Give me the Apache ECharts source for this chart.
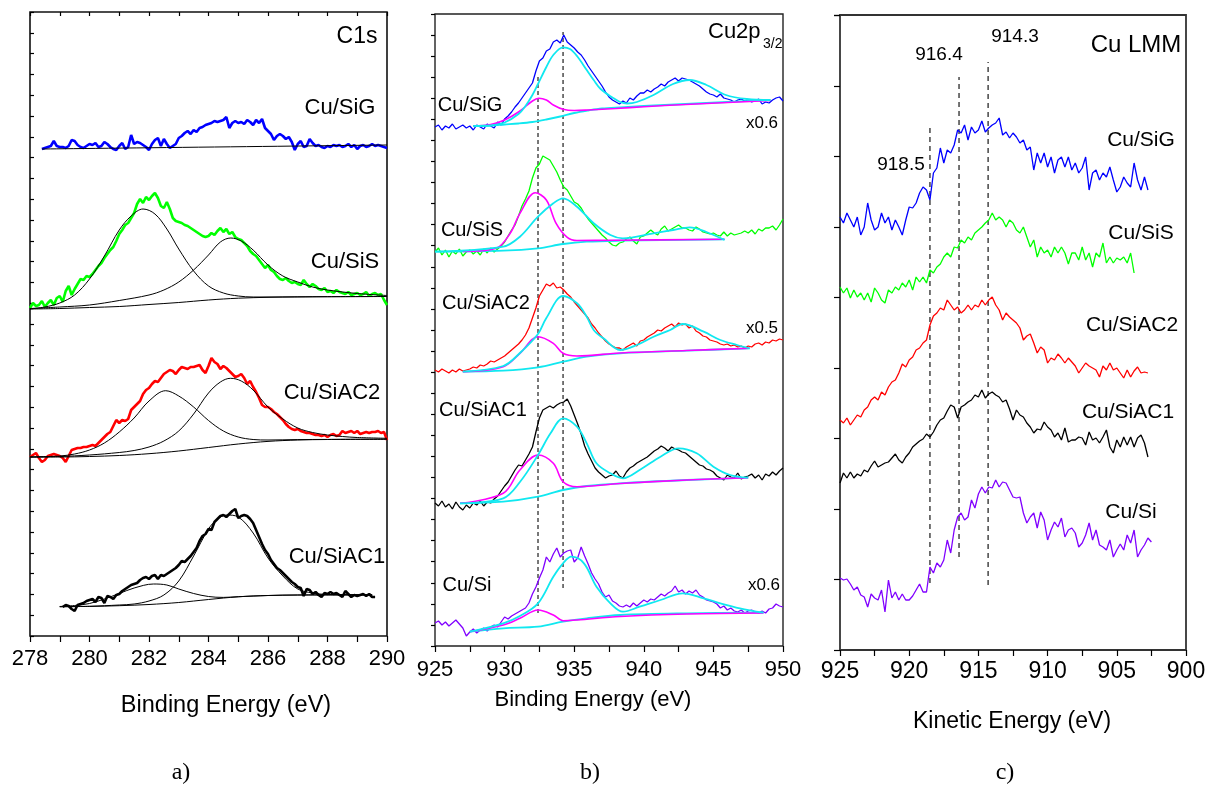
<!DOCTYPE html>
<html>
<head>
<meta charset="utf-8">
<script src="https://cdn.jsdelivr.net/npm/echarts@6/dist/echarts.min.js"></script>
<style>
  html, body { margin: 0; padding: 0; background: #fff; }
  #chart { width: 1208px; height: 787px; }
</style>
</head>
<body>
<div id="chart"></div>
<script>
// ---------- a) C1s : uniformly sampled spectra (start energy, step, intensities) ----------
const c1sStep = 0.1;
const c1sSiGStart = 278.4;
const c1sSiG = [487,488,489,490,495,490,
  489,489,488,490,496,495,491,489,488,490,
  492,491,493,489,490,494,492,489,487,486,
  490,493,487,489,501,492,494,493,491,489,
  486,492,496,498,490,497,492,488,490,492,
  498,500,503,505,502,506,504,508,509,511,
  512,513,515,514,515,516,519,508,513,515,
  513,514,512,516,514,511,516,513,517,508,
  505,502,496,500,502,500,497,499,494,486,
  492,495,489,490,497,493,490,491,489,488,
  490,489,491,490,491,489,490,492,489,491,
  487,490,491,489,490,492,490,491,490,489,
  488];
const c1sSiSStart = 278.0;
const c1sSiS = [328,333,330,331,335,329,333,336,331,338,
  340,334,345,350,341,347,352,357,356,360,
  359,362,366,370,373,378,382,386,389,395,
  402,406,411,413,418,423,432,437,433,439,
  436,440,443,438,430,428,434,427,418,415,
  414,413,411,410,408,406,404,402,400,399,
  400,403,401,405,408,404,407,402,404,399,
  397,396,393,390,385,382,380,376,372,368,
  371,366,364,360,357,356,358,355,353,354,
  352,351,356,352,349,352,350,347,346,348,
  344,345,343,346,344,343,342,344,341,342,
  343,341,342,344,340,342,343,341,342,336,
  331];
const c1sSiAC2Start = 278.0;
const c1sSiAC2 = [179,181,183,178,174,176,180,181,182,181,
  180,178,174,180,186,187,188,188,189,189,
  190,191,190,193,196,199,202,204,210,216,
  213,216,215,217,226,229,232,235,242,246,
  248,252,255,254,258,262,264,266,265,262,
  266,269,268,267,269,269,270,271,266,263,
  270,278,274,272,267,270,268,265,262,259,
  260,262,258,252,255,249,244,238,231,229,
  229,227,224,222,219,216,212,209,207,206,
  207,205,204,203,203,202,201,201,200,201,
  199,201,202,200,201,205,203,204,205,203,
  205,202,203,204,203,204,204,205,203,204,
  196];
const c1sSiAC1Start = 279.1;
const c1sSiAC1 = [29,31,30,27,25,31,32,33,35,
  36,37,34,39,38,33,40,39,37,41,
  42,45,47,49,51,52,53,56,58,59,
  57,60,61,57,61,60,62,64,66,68,
  71,75,74,77,80,84,88,95,100,102,
  107,106,114,117,120,121,119,122,125,127,
  118,120,121,120,117,113,106,99,92,86,
  82,76,72,68,66,63,60,57,54,52,
  49,48,40,47,46,42,44,41,39,43,
  42,44,42,43,41,39,45,42,39,41,
  40,41,42,40,42,39,39];

// C1s fitted backgrounds and components as [binding energy, intensity]
const c1sSiGBase = [[278.4, 487], [290, 491]];
const c1sSiSBase = [[278,327],[279,327.5],[280,328.5],[281,329.5],[282,331.5],[283,333.5],[284,336],[285,337.8],[286,338.7],[287,339.2],[288,339.3],[290,339.5]];
const c1sSiSPk1 = [[278,327],[278.5,329],[279,333],[279.5,341],[280,357],[280.5,380],[281,406],[281.4,420],[281.8,427],[282.2,422],[282.6,407],[283,387],[283.5,365],[284,350],[284.5,343],[285,340],[285.5,339],[286.5,339],[288,339.3],[290,339.5]];
const c1sSiSPk2 = [[278,327.5],[279,329],[280,331],[281,335.5],[282,341],[282.5,346],[283,354],[283.5,366],[284,381],[284.4,394],[284.75,398],[285.1,395],[285.5,386],[286,371],[286.5,360],[287,354],[287.5,349],[288,346],[289,342.5],[290,340.5]];
const c1sSiAC2Base = [[278,179],[279,179],[280,179.5],[281,180.5],[282,182.3],[283,185],[284,188.5],[285,192],[286,194.6],[287,196],[288,196.5],[290,196.8]];
const c1sSiAC2Pk1 = [[278,179],[279,180],[279.5,182],[280,186],[280.5,193],[281,204],[281.5,218],[282,235],[282.56,245.3],[283,240],[283.5,229],[284,215.5],[284.5,205],[285,199],[285.5,196.5],[286,196],[287,196.4],[288,196.6],[290,196.8]];
const c1sSiAC2Pk2 = [[278,179],[279,179.5],[280,181],[281,183.5],[281.5,185.5],[282,189],[282.5,195],[283,205],[283.5,222],[284,243],[284.4,254],[284.74,257.7],[285.1,255],[285.5,246],[286,229],[286.5,217],[287,208],[287.5,203.5],[288,201],[288.5,199.5],[289,198.5],[290,197.7]];
const c1sSiAC1Base = [[279,29.3],[280,29.6],[281,30.3],[282,31.5],[283,33.5],[284,36.5],[285,39.2],[286,40.5],[287,41],[288,41.1],[289.5,41.2]];
const c1sSiAC1Pk1 = [[279,29.5],[279.5,30.5],[280,32.5],[280.5,37],[281,42.5],[281.5,48],[282.15,52],[282.6,51],[283,47],[283.5,42.5],[284,39.5],[284.5,38.6],[285,39.3],[286,40.5],[287,41],[289.5,41.2]];
const c1sSiAC1Pk2 = [[279,29.3],[280,29.7],[281,31],[281.5,32],[282,35],[282.5,41],[283,55],[283.5,80],[284,107],[284.3,117],[284.61,121],[285,119],[285.5,103],[286,78],[286.5,60],[287,47],[287.5,43],[288,41.5],[289,41.2],[289.5,41.2]];

// ---------- b) Cu2p3/2 ----------
const cu2pStart = 925, cu2pStep = 0.25;
const cu2pSiG = [519,521,516,520,518,522,517,519,521,518,
  520,516,521,519,517,522,520,518,524,521,
  527,530,534,539,543,548,553,558,563,575,
  585,588,595,597,604,606,603,611,604,601,
  598,594,591,586,580,575,570,565,560,554,
  549,546,544,542,545,543,548,546,550,553,
  553,556,554,557,559,562,560,564,566,568,
  565,568,567,566,564,562,560,557,554,552,
  551,549,552,548,547,546,544,546,547,545,
  546,544,545,547,542,544,543,546,548,549,
  545];
const cu2pSiS = [394,398,391,396,389,395,392,397,390,394,
  396,392,395,391,397,393,398,394,397,400,
  404,410,416,421,430,440,447,455,468,478,
  482,490,488,486,480,474,466,459,456,450,
  444,442,438,432,427,423,419,415,411,408,
  404,401,400,403,404,407,409,405,402,409,
  410,413,416,413,411,417,420,415,417,419,
  421,418,418,416,415,419,417,414,413,412,
  413,411,410,414,410,413,411,412,413,415,
  413,416,412,417,415,418,418,420,416,421,
  427];
const cu2pSiAC2 = [276,274,277,275,273,276,274,277,275,276,
  277,279,278,281,280,282,285,284,286,288,
  290,293,296,299,302,306,311,318,328,338,
  350,356,362,360,363,358,359,356,352,349,
  344,340,336,332,328,322,318,313,309,305,
  302,300,298,298,296,299,301,303,300,305,
  306,309,311,313,316,315,318,320,322,319,
  323,321,322,318,320,315,313,310,309,306,
  305,304,302,301,302,300,301,299,300,298,
  300,299,302,303,301,304,303,306,305,307,
  306];
const cu2pSiAC1 = [143,140,145,139,142,137,144,139,136,141,
  138,143,141,145,140,144,143,147,150,155,
  160,164,170,176,181,180,186,192,199,214,
  228,236,238,240,238,241,243,244,247,240,
  231,222,212,200,192,185,178,174,171,168,
  170,171,175,170,168,174,178,180,183,185,
  187,189,192,195,197,200,198,195,199,197,
  196,194,193,190,187,184,181,180,177,176,
  174,170,168,166,171,169,168,173,167,169,
  170,172,168,171,166,172,170,174,171,175,
  178];
const cu2pSi = [23,25,21,24,20,23,26,22,18,10,
  14,17,13,16,18,15,19,21,19,24,
  29,27,30,32,34,36,38,43,52,59,
  68,76,89,84,92,98,89,93,95,96,
  84,88,99,90,82,73,67,62,54,49,
  51,45,43,40,39,41,39,43,40,43,
  46,44,47,46,49,52,50,53,55,60,
  54,56,52,55,53,56,51,49,46,45,
  44,42,38,40,36,38,35,34,36,33,
  35,36,34,33,35,33,37,38,42,40,
  39];

// Cu2p fitted background (cyan), Cu+ component (magenta) and Cu2+ main + satellite (cyan)
const cu2pSiGBase = [[927.75,520],[929,520.5],[930,521.5],[931,522.5],[932,524],[933,526.5],[934,529.5],[935,533],[936,535.5],[937,537.5],[938.3,538.7],[940,540],[943,542],[946,544],[949.1,546]];
const cu2pSiGMag = [[927.75,520],[929,521.5],[930,526],[931,534],[932,545],[932.45,547.7],[933,546],[933.5,541],[934.2,536.7],[935,535.5],[936,536],[938,537.5],[940,539.3],[943,541.5],[946,543.5],[949.1,545.5]];
const cu2pSiGCyan = [[927.75,520],[929,520.5],[930,523.5],[931,532],[931.5,540],[932,551],[932.4,562],[933,579],[933.5,591],[934.2,598.7],[934.7,597],[935.2,590],[935.9,576],[936.4,566],[936.9,557],[937.8,548],[938.3,544],[938.8,542.5],[939.5,544],[940.7,551],[942.1,562],[943.3,566],[944.5,561],[945.9,551],[947.4,547],[949.1,546]];
const cu2pSiSBase = [[925,394.3],[929.9,395.3],[932.4,397.7],[934.2,402],[935.9,404.3],[938.3,405.3],[945.8,406.7]];
const cu2pSiSMag = [[927,394.5],[929.4,397.7],[930.4,412.7],[931.1,432.7],[932.2,453.3],[933,446],[933.7,422.7],[934.5,408.7],[935.2,405.5],[938,405.8],[945.8,406.7]];
const cu2pSiSCyan = [[925,394.3],[929.9,399.3],[931.1,409.3],[932.4,429.3],[933.5,442.7],[934.2,447.7],[935.2,439.3],[936.4,422.7],[937.6,411],[938.5,407.7],[940.7,412.7],[942.1,416],[943.3,418.7],[944.5,414],[945.8,406]];
const cu2pSiAC2Base = [[927,274.3],[929.9,275.3],[932.4,278.7],[934.2,284.3],[935.9,289.3],[938.3,292.7],[943.1,295.3],[947.6,297.7]];
const cu2pSiAC2Mag = [[927,274.3],[929.9,279.3],[931.1,292.7],[932.4,309.3],[933.5,302.7],[934.2,292.7],[935.2,290],[938.3,293],[943.1,295.5],[947.6,297.7]];
const cu2pSiAC2Cyan = [[927,274.3],[929.9,280],[931.1,293],[932.4,312],[933,328],[934.2,350],[935.2,342.7],[935.9,329.3],[936.4,316],[937.1,307.7],[938.3,296],[939.5,301],[940.7,309.3],[941.9,316],[942.8,322],[944.3,314.3],[945.5,306],[946.7,301],[947.6,297.7]];
const cu2pSiAC1Base = [[926.8,142.7],[929.9,144.3],[932.4,149.3],[934.2,156],[935.9,160],[938.3,162.7],[943.1,166],[947.5,168.3]];
const cu2pSiAC1Mag = [[926.8,142.7],[929.9,152.7],[931.1,176],[932.4,191],[933.5,182.7],[934.2,164.3],[935.2,159.3],[938.3,162.5],[943.1,166],[947.5,168.3]];
const cu2pSiAC1Cyan = [[926.8,142.7],[929.9,147.7],[931.1,164],[932.4,191],[933.3,212.7],[934.2,227.7],[935.2,219.3],[935.9,202.7],[936.6,182.7],[937.6,172.7],[938.5,167.7],[939.7,176],[941.2,189.3],[942.5,197.7],[943.8,192.7],[945,179.3],[946.2,171],[947.5,168.3]];
const cu2pSiBase = [[927.5,14.3],[929.9,17.7],[932.4,19.3],[934.2,24.3],[935.9,27.7],[938.3,31],[943.1,32.7],[948.6,33.3]];
const cu2pSiMag = [[927.5,14.3],[929.9,21],[931.1,27.7],[932.4,36],[933.5,31],[934.2,25.3],[935.2,26],[938.3,29.5],[943.1,32],[948.6,33]];
const cu2pSiCyan = [[927.5,14.3],[929.9,22.7],[931.1,30],[932.4,42.7],[933.5,69.3],[934.2,82.7],[934.8,89.3],[935.7,82.7],[936.6,59.3],[937.6,42.7],[938.5,34.3],[939.7,39.3],[941.2,46],[942.8,52.7],[944.3,47.7],[945.5,42.7],[946.9,37.7],[948.6,33.3]];

// reference binding energies (dotted guides) and their vertical extent
const cu2pGuides = [932.4, 934.2];
const cu2pGuideSpan = [[33, 570], [58, 614]];

// ---------- c) Cu LMM (kinetic energy, recorded downwards from 925 eV) ----------
const lmmStart = 925, lmmStep = -0.25;
const lmmSiG = [433,427,437,430,423,433,415,423,447,430,
  420,423,437,427,433,420,430,423,415,430,
  443,442,447,457,463,460,450,477,482,502,
  487,500,497,505,520,517,525,510,523,517,
  520,529,518,522,525,527,532,515,518,512,
  517,513,507,510,500,503,480,497,487,497,
  483,493,477,490,493,483,493,480,487,477,
  482,493,460,477,480,470,477,473,483,470,
  458,463,473,467,463,487,470,460,473,460];
const lmmSiS = [363,357,362,352,360,353,357,350,357,348,
  362,357,350,347,360,357,363,360,367,363,
  370,360,373,368,373,367,380,377,383,386,
  393,397,393,403,402,410,407,413,410,417,
  420,423,427,430,437,430,433,430,423,430,
  427,420,417,423,413,403,410,393,403,397,
  400,393,403,397,403,397,386,397,397,390,
  403,390,397,383,397,393,407,387,393,387,
  392,390,393,387,397,377];
const lmmSiAC2 = [230,227,232,225,230,235,233,240,243,250,
  253,250,258,255,263,268,270,277,286,283,
  290,293,300,302,307,310,325,334,337,342,
  340,350,345,340,343,337,340,345,340,345,
  343,350,345,350,353,345,340,330,337,333,
  330,327,322,310,314,316,307,297,303,300,
  287,292,290,296,292,287,292,288,284,277,
  282,287,284,282,280,273,284,280,287,280,
  282,277,272,280,273,279,283,277,278,277];
const lmmSiAC1 = [167,177,172,178,172,176,174,180,178,184,
  189,183,185,187,188,192,196,190,187,193,
  197,203,206,209,211,216,213,218,225,230,
  232,239,245,243,232,243,245,248,250,255,
  253,260,252,256,258,255,253,248,250,241,
  230,240,235,233,227,223,217,221,220,228,
  223,220,213,217,210,222,208,210,210,213,
  212,205,218,210,212,207,213,220,203,197,
  210,203,213,205,213,203,212,215,207,193];
const lmmSi = [72,70,71,66,60,63,55,53,43,56,
  52,50,60,38,70,52,58,50,56,50,
  50,54,60,66,58,58,83,77,87,83,
  90,110,97,120,133,137,130,133,150,142,
  156,163,157,163,162,170,163,168,167,160,
  153,152,153,137,127,133,137,122,138,130,
  110,120,128,123,132,113,120,122,117,103,
  107,115,127,110,120,105,103,100,110,93,
  100,106,100,115,107,120,93,100,105,112,108];

// Auger peak positions marked with dashed lines, and their vertical extent
const lmmMarkers = [918.5, 916.4, 914.3];
const lmmMarkerSpan = [[67, 523], [93, 573], [65, 588]];

// ---------- helpers ----------
function sampled(start, step, vals) {
  return vals.map((v, i) => [+(start + i * step).toFixed(3), v]);
}

const SANS = "'Liberation Sans', Arial, Helvetica, sans-serif";
const SERIF = "'Liberation Serif', 'Times New Roman', serif";

const COL = {
  blue: '#0000ff', green: '#00ff00', red: '#ff0000', black: '#000000',
  violet: '#8000ff', cyan: '#10e8f0', magenta: '#ff00ff'
};

function line(panel, data, color, width, extra) {
  return Object.assign({
    type: 'line', xAxisIndex: panel.x, yAxisIndex: panel.y, data: data,
    showSymbol: false, symbol: 'none', silent: true, animation: false,
    lineStyle: { color: color, width: width }, z: 2
  }, extra || {});
}
const fitLine = (panel, data, color, width) => line(panel, data, color, width, { smooth: 0.35, z: 3 });

const PA = { x: 0, y: 0 }, PB = { x: 2, y: 1 }, PC = { x: 3, y: 2 };

const series = [];

// panel a
series.push(line(PA, sampled(c1sSiGStart, c1sStep, c1sSiG), COL.blue, 2.6));
series.push(line(PA, sampled(c1sSiSStart, c1sStep, c1sSiS), COL.green, 2.6));
series.push(line(PA, sampled(c1sSiAC2Start, c1sStep, c1sSiAC2), COL.red, 2.6));
series.push(line(PA, sampled(c1sSiAC1Start, c1sStep, c1sSiAC1), COL.black, 2.6));
[c1sSiGBase, c1sSiSBase, c1sSiSPk1, c1sSiSPk2, c1sSiAC2Base, c1sSiAC2Pk1, c1sSiAC2Pk2,
 c1sSiAC1Base, c1sSiAC1Pk1, c1sSiAC1Pk2].forEach(a => series.push(fitLine(PA, a, '#000', 1)));

// panel b: guides first, then spectra, then fits
cu2pGuides.forEach((e, i) => series.push(line(PB, [[e, cu2pGuideSpan[i][0]], [e, cu2pGuideSpan[i][1]]], '#555', 1.6,
  { lineStyle: { color: '#555', width: 1.6, type: [4, 3] }, z: 1 })));
series.push(line(PB, sampled(cu2pStart, cu2pStep, cu2pSiG), COL.blue, 1.3));
series.push(line(PB, sampled(cu2pStart, cu2pStep, cu2pSiS), COL.green, 1.3));
series.push(line(PB, sampled(cu2pStart, cu2pStep, cu2pSiAC2), COL.red, 1.3));
series.push(line(PB, sampled(cu2pStart, cu2pStep, cu2pSiAC1), COL.black, 1.3));
series.push(line(PB, sampled(cu2pStart, cu2pStep, cu2pSi), COL.violet, 1.3));
[
  [cu2pSiGBase, cu2pSiGMag, cu2pSiGCyan],
  [cu2pSiSBase, cu2pSiSMag, cu2pSiSCyan],
  [cu2pSiAC2Base, cu2pSiAC2Mag, cu2pSiAC2Cyan],
  [cu2pSiAC1Base, cu2pSiAC1Mag, cu2pSiAC1Cyan],
  [cu2pSiBase, cu2pSiMag, cu2pSiCyan]
].forEach(([b, m, c]) => {
  series.push(fitLine(PB, b, COL.cyan, 1.8));
  series.push(fitLine(PB, m, COL.magenta, 1.6));
  series.push(fitLine(PB, c, COL.cyan, 1.8));
});

// panel c
lmmMarkers.forEach((e, i) => series.push(line(PC, [[e, lmmMarkerSpan[i][0]], [e, lmmMarkerSpan[i][1]]], '#000', 1,
  { lineStyle: { color: '#000', width: 1.1, type: [5, 4] }, z: 1 })));
series.push(line(PC, sampled(lmmStart, lmmStep, lmmSiG), COL.blue, 1.3));
series.push(line(PC, sampled(lmmStart, lmmStep, lmmSiS), COL.green, 1.3));
series.push(line(PC, sampled(lmmStart, lmmStep, lmmSiAC2), COL.red, 1.3));
series.push(line(PC, sampled(lmmStart, lmmStep, lmmSiAC1), COL.black, 1.3));
series.push(line(PC, sampled(lmmStart, lmmStep, lmmSi), COL.violet, 1.3));

// ---------- axes ----------
const tickStyle = { color: '#000', width: 1.2 };
function xBottom(grid, min, max, interval, fontSize, margin, inverse) {
  return {
    type: 'value', gridIndex: grid, position: 'bottom', min: min, max: max, interval: interval, inverse: !!inverse,
    axisLine: { show: false },
    axisTick: { show: true, inside: false, length: 6, lineStyle: tickStyle },
    minorTick: { show: true, splitNumber: 2, length: 6, lineStyle: tickStyle },
    splitLine: { show: false }, minorSplitLine: { show: false },
    axisLabel: { show: true, color: '#000', fontFamily: SANS, fontSize: fontSize, margin: margin, showMinLabel: true, showMaxLabel: true, hideOverlap: false }
  };
}
const xAxis = [
  xBottom(0, 278, 290, 2, 22, 12, false),
  { type: 'value', gridIndex: 0, position: 'top', min: 278, max: 290, interval: 2,
    axisLine: { show: false }, axisTick: { show: true, inside: true, length: 4, lineStyle: tickStyle },
    minorTick: { show: true, splitNumber: 2, length: 4, lineStyle: tickStyle },
    splitLine: { show: false }, axisLabel: { show: false } },
  xBottom(1, 925, 950, 5, 22, 13, false),
  xBottom(2, 900, 925, 5, 23, 10, true)
];
function yLeft(grid, max, interval, inside, len) {
  return {
    type: 'value', gridIndex: grid, min: 0, max: max, interval: interval,
    axisLine: { show: false },
    axisTick: { show: true, inside: inside, length: len, lineStyle: tickStyle },
    splitLine: { show: false }, axisLabel: { show: false }
  };
}
const yAxis = [
  yLeft(0, 624, 20.8, true, 4),
  yLeft(1, 632, 632 / 30, false, 4),
  yLeft(2, 635, 70.5, false, 6)
];

const frame = { show: true, borderColor: '#111', borderWidth: 1.6, backgroundColor: 'transparent' };
const grid = [
  Object.assign({ left: 30, top: 12, width: 357, height: 624, containLabel: false, outerBoundsMode: 'none' }, frame),
  Object.assign({ left: 435, top: 14, width: 348, height: 632, containLabel: false, outerBoundsMode: 'none' }, frame, { borderWidth: 1.4, borderColor: '#222' }),
  Object.assign({ left: 840, top: 15, width: 346, height: 635, containLabel: false, outerBoundsMode: 'none' }, frame, { borderWidth: 1.8, borderColor: '#333' })
];

// ---------- annotations ----------
function txt(text, x, y, size, family, align) {
  return { type: 'text', x: x, y: y, z: 10, silent: true,
    style: { text: text, fill: '#000', font: size + 'px ' + (family || SANS), align: align || 'center', verticalAlign: 'middle' } };
}
const graphic = [
  // a)
  txt('C1s', 357, 37, 23), txt('Cu/SiG', 340, 108, 22), txt('Cu/SiS', 345, 262, 22),
  txt('Cu/SiAC2', 332, 393, 22), txt('Cu/SiAC1', 337, 557, 22),
  txt('Binding Energy (eV)', 226, 706, 23.5), txt('a)', 181, 773, 24, SERIF),
  // b)
  txt('Cu2p', 708, 32, 22, SANS, 'left'), txt('3/2', 763, 44, 14, SANS, 'left'),
  txt('Cu/SiG', 470, 105, 20), txt('Cu/SiS', 472, 230, 20), txt('Cu/SiAC2', 486, 303, 20),
  txt('Cu/SiAC1', 483, 410, 20), txt('Cu/Si', 467, 585, 20),
  txt('x0.6', 762, 123, 17), txt('x0.5', 762, 328, 17), txt('x0.6', 764, 585, 17),
  txt('Binding Energy (eV)', 593, 700, 22), txt('b)', 590, 773, 24, SERIF),
  // c)
  txt('Cu LMM', 1136, 45, 24), txt('Cu/SiG', 1141, 140, 21), txt('Cu/SiS', 1141, 233, 21),
  txt('Cu/SiAC2', 1132, 325, 21), txt('Cu/SiAC1', 1128, 412, 21), txt('Cu/Si', 1131, 512, 21),
  txt(String(lmmMarkers[0]), 901, 165, 19), txt(String(lmmMarkers[1]), 939, 55, 19), txt(String(lmmMarkers[2]), 1015, 37, 19),
  txt('Kinetic Energy (eV)', 1012, 722, 23), txt('c)', 1005, 773, 24, SERIF)
];

const chart = echarts.init(document.getElementById('chart'), null, { renderer: 'canvas', width: 1208, height: 787 });
chart.setOption({
  animation: false,
  backgroundColor: '#ffffff',
  textStyle: { fontFamily: SANS },
  grid: grid,
  xAxis: xAxis,
  yAxis: yAxis,
  series: series,
  graphic: graphic
});
</script>
</body>
</html>
